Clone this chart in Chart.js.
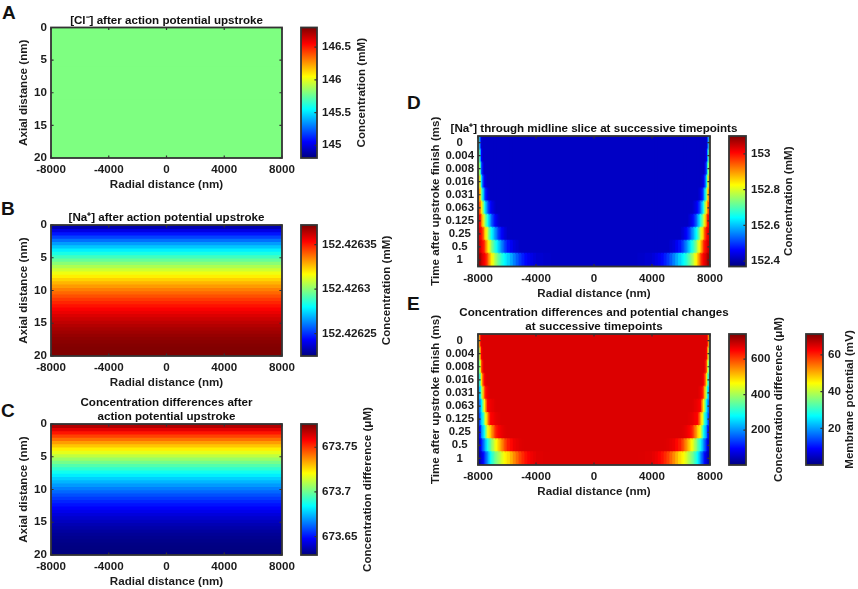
<!DOCTYPE html>
<html><head><meta charset="utf-8">
<style>
html,body{margin:0;padding:0;background:#fff;width:858px;height:589px;overflow:hidden}
canvas{position:absolute;left:0;top:0}
.tag{position:absolute;font:bold 19px "Liberation Sans",Arial,sans-serif;color:#111;line-height:19px}
</style>
<script src="https://cdn.jsdelivr.net/npm/chart.js@4"></script>
</head><body>
<div class="tag" style="left:2px;top:3px">A</div>
<div class="tag" style="left:1px;top:199px">B</div>
<div class="tag" style="left:1px;top:401px">C</div>
<div class="tag" style="left:407px;top:93px">D</div>
<div class="tag" style="left:407px;top:294px">E</div>
<script>
// ---- data ----
const axialDepthCoarse = [0,5,10,15,20];
const clConcentration = [145.80,145.80,145.80,145.80,145.80];
const axialDepthFine = [0,0.5,1,1.5,2,2.5,3,3.5,4,4.5,5,5.5,6,6.5,7,7.5,8,8.5,9,9.5,10,10.5,11,11.5,12,12.5,13,13.5,14,14.5,15,15.5,16,16.5,17,17.5,18,18.5,19,19.5,20];
const naConcentration = [152.4262250,152.4262323,152.4262393,152.4262462,152.4262529,152.4262595,152.4262658,152.4262720,152.4262779,152.4262837,152.4262893,152.4262947,152.4263000,152.4263050,152.4263099,152.4263146,152.4263191,152.4263234,152.4263275,152.4263315,152.4263353,152.4263388,152.4263422,152.4263455,152.4263485,152.4263513,152.4263540,152.4263565,152.4263588,152.4263609,152.4263628,152.4263646,152.4263661,152.4263675,152.4263687,152.4263697,152.4263705,152.4263712,152.4263716,152.4263719,152.4263720];
const concDifference = [673.7760,673.7688,673.7617,673.7548,673.7482,673.7417,673.7353,673.7292,673.7233,673.7175,673.7119,673.7065,673.7013,673.6962,673.6914,673.6867,673.6822,673.6779,673.6738,673.6699,673.6661,673.6626,673.6592,673.6560,673.6529,673.6501,673.6474,673.6450,673.6427,673.6406,673.6387,673.6369,673.6354,673.6340,673.6328,673.6318,673.6310,673.6303,673.6299,673.6296,673.6295];
const timeLabels = ['0','0.004','0.008','0.016','0.031','0.063','0.125','0.25','0.5','1'];
const distFromEdge = [0,100,200,300,400,500,600,700,800,900,1000,1100,1200,1300,1400,1500,1600,1700,1800,1900,2000,2200,2400,2600,2800,3000,3200,3400,3600,3800,4000,4500,5000];
const naBulk = 152.42;
const naT0     = [152.699,152.516,152.428];
const naT0004  = [152.772,152.589,152.458];
const naT0008  = [152.823,152.677,152.516,152.443];
const naT0016  = [152.896,152.772,152.618,152.501,152.450,152.428];
const naT0031  = [152.954,152.852,152.720,152.618,152.531,152.472,152.443,152.430];
const naT0063  = [152.991,152.918,152.845,152.750,152.662,152.596,152.538,152.500,152.465,152.450,152.436,152.428];
const naT0125  = [153.027,152.998,152.918,152.845,152.772,152.713,152.662,152.614,152.567,152.530,152.494,152.472,152.450,152.439,152.428];
const naT025   = [153.049,153.020,152.998,152.954,152.881,152.837,152.786,152.731,152.677,152.644,152.611,152.582,152.553,152.523,152.494,152.476,152.458,152.447,152.436,152.428];
const naT05    = [153.064,153.042,153.020,152.998,152.969,152.910,152.859,152.818,152.779,152.742,152.706,152.680,152.655,152.629,152.604,152.578,152.553,152.531,152.509,152.490,152.472,152.453,152.436,152.428];
const naT1     = [153.085,153.071,153.049,153.027,153.012,152.991,152.954,152.910,152.866,152.835,152.808,152.778,152.750,152.728,152.706,152.687,152.669,152.654,152.640,152.625,152.611,152.582,152.553,152.526,152.501,152.482,152.465,152.453,152.443,152.435,152.428,152.423,152.42];
const diffBulk = 674;
const diffT0    = [446,623,671];
const diffT0004 = [357,534,652];
const diffT0008 = [298,446,593,660];
const diffT0016 = [239,350,490,601,652,671];
const diffT0031 = [188,269,387,505,593,645,660,668];
const diffT0063 = [136,210,269,387,475,557,645,653,660,664,667,671];
const diffT0125 = [92,188,247,298,387,468,527,586,645,651,656,662,667,669,671,673];
const diffT025  = [62,114,195,247,291,372,446,476,505,538,571,600,630,641,652,658,664,668,671,673];
const diffT05   = [40,69,114,165,202,247,291,320,350,380,409,435,461,483,505,527,549,571,593,612,630,645,660,666,671,673];
const diffT1    = [25,47,69,92,128,165,202,239,276,302,328,350,372,387,402,420,438,453,468,479,490,520,549,575,601,620,638,650,660,666,671,673,674];
const xTicksNm = [-8000,-4000,0,4000,8000];
const clTicks = [145,145.5,146,146.5];
const naTicks = [152.42625,152.4263,152.42635];
const diffTicks = [673.65,673.7,673.75];
const naMidTicks = [152.4,152.6,152.8,153];
const diffMidTicks = [200,400,600];
const vmTicks = [20,40,60];

// ---- helpers ----
const W=858,H=589,INK='#1c1c1c',FRAME='#333333';
const fontFam='"Liberation Sans",Arial,sans-serif';
const F={family:fontFam,weight:'bold',size:11.6};
const clamp=v=>Math.max(0,Math.min(1,v));
function jet(f){const r=clamp(1.5-Math.abs(4*f-3)),g=clamp(1.5-Math.abs(4*f-2)),b=clamp(1.5-Math.abs(4*f-1));
  return `rgb(${Math.round(r*255)},${Math.round(g*255)},${Math.round(b*255)})`;}
const colorOf=(v,lo,hi)=>jet((v-lo)/(hi-lo));
function newCanvas(){const c=document.createElement('canvas');c.width=W;c.height=H;c.style.width=W+'px';c.style.height=H+'px';document.body.appendChild(c);return c.getContext('2d');}
function frame(isBar){return {id:'frame',
 afterLayout(ch){if(ch.titleBlock){ch.titleBlock.left-=90;ch.titleBlock.right+=90;}},
 afterDraw(ch){
  const {ctx,chartArea:a,scales}=ch;ctx.save();ctx.strokeStyle=FRAME;ctx.lineWidth=1.2;
  const L=2.6;ctx.beginPath();
  if(isBar){const s=scales.y;s.ticks.forEach((t,i)=>{const p=s.getPixelForTick(i);ctx.moveTo(a.right,p);ctx.lineTo(a.right-L,p);});}
  else{
    const sx=scales.x,sy=scales.y;
    sx.ticks.forEach((t,i)=>{const p=sx.getPixelForTick(i);ctx.moveTo(p,a.top);ctx.lineTo(p,a.top+L);ctx.moveTo(p,a.bottom);ctx.lineTo(p,a.bottom-L);});
    sy.ticks.forEach((t,i)=>{const p=sy.getPixelForTick(i);ctx.moveTo(a.left,p);ctx.lineTo(a.left+L,p);ctx.moveTo(a.right,p);ctx.lineTo(a.right-L,p);});
  }
  ctx.stroke();ctx.lineWidth=1.8;ctx.strokeRect(a.left,a.top,a.right-a.left,a.bottom-a.top);ctx.restore();
}};}
const noGrid={display:false,tickLength:0,drawTicks:false};
const xAxis={type:'linear',min:-8000,max:8000,
  afterBuildTicks(s){s.ticks=xTicksNm.map(value=>({value}));},
  afterFit(s){s.height=34;},
  grid:noGrid,border:{display:false},
  ticks:{font:F,color:INK,padding:5,autoSkip:false,maxRotation:0,callback:v=>String(v)},
  title:{display:true,text:'Radial distance (nm)',font:F,color:INK,padding:0}};
function commonOpts(rect,title,yw,yScale){
  const lines=Array.isArray(title)?title.length:1,titleH=lines*14;
  return {responsive:false,animation:false,devicePixelRatio:1,indexAxis:'y',
    layout:{padding:{left:rect.l-yw,right:W-rect.r,top:rect.t-titleH,bottom:H-rect.b-34}},
    plugins:{legend:{display:false},tooltip:{enabled:false},
      title:{display:true,text:title,fullSize:false,color:'#111',padding:0,font:{family:fontFam,weight:'bold',size:11.6,lineHeight:14/11.6}}},
    scales:{x:xAxis,y:yScale}};
}
function gradientPanel(rect,title,depths,values,lo,hi){
  const y={type:'linear',reverse:true,min:0,max:20,offset:false,
    afterBuildTicks(s){s.ticks=axialDepthCoarse.map(value=>({value}));},
    afterFit(s){s.width=34;},grid:noGrid,border:{display:false},
    ticks:{font:F,color:INK,padding:4,callback:v=>String(v)},
    title:{display:true,text:'Axial distance (nm)',font:F,color:INK,padding:0}};
  new Chart(newCanvas(),{type:'bar',
    data:{datasets:[{data:depths.map((d,i)=>({y:d,x:[-8000,8000]})),
      backgroundColor:values.map(v=>colorOf(v,lo,hi)),borderWidth:0,barPercentage:1.6,categoryPercentage:1}]},
    options:commonOpts(rect,title,34,y),plugins:[frame(false)]});
}
function timePanel(rect,title,rows,bulk,lo,hi){
  const y={type:'category',labels:timeLabels,
    afterFit(s){s.width=49;},grid:noGrid,border:{display:false},
    ticks:{font:{...F,size:11.4},color:INK,padding:4,autoSkip:false,crossAlign:'center'},
    title:{display:true,text:'Time after upstroke finish (ms)',font:F,color:INK,padding:0}};
  const datasets=[];
  for(let c=distFromEdge.length-1;c>=0;c--){
    const d=distFromEdge[c];
    datasets.push({data:rows.map(()=>[-8000+d,8000-d]),
      backgroundColor:rows.map(r=>colorOf(r[c]??bulk,lo,hi)),
      borderWidth:0,grouped:false,barPercentage:1.1,categoryPercentage:1});
  }
  new Chart(newCanvas(),{type:'bar',data:{labels:timeLabels,datasets},
    options:commonOpts(rect,title,49,y),plugins:[frame(false)]});
}
function colorbar(rect,lo,hi,ticks,label,labelX){
  const yw=label.w;
  const labelPlugin={id:'cbLabel',afterDraw(ch){const c=ch.ctx,a=ch.chartArea;c.save();
    c.translate(labelX,label.cy??(a.top+a.bottom)/2);c.rotate(-Math.PI/2);
    c.font=`bold 11.6px ${fontFam}`;c.fillStyle=INK;c.textAlign='center';c.textBaseline='middle';c.fillText(label.text,0,0);c.restore();}};
  new Chart(newCanvas(),{type:'bar',
    data:{labels:[''],datasets:[{data:[[lo,hi]],borderWidth:0,barPercentage:1,categoryPercentage:1,
      backgroundColor(ctx){const a=ctx.chart.chartArea;if(!a)return '#000';
        const g=ctx.chart.ctx.createLinearGradient(0,a.bottom,0,a.top);
        [0,0.125,0.375,0.625,0.875,1].forEach(s=>g.addColorStop(s,jet(s)));return g;}}]},
    options:{responsive:false,animation:false,devicePixelRatio:1,
      layout:{padding:{left:rect.l,right:W-rect.r-yw,top:rect.t,bottom:H-rect.b}},
      plugins:{legend:{display:false},tooltip:{enabled:false}},
      scales:{x:{display:false},
        y:{type:'linear',position:'right',min:lo,max:hi,
          afterBuildTicks(s){s.ticks=ticks.map(value=>({value}));},
          afterFit(s){s.width=yw;},grid:noGrid,border:{display:false},
          ticks:{font:F,color:INK,padding:5,autoSkip:false,callback:v=>String(v)}}}},
    plugins:[frame(true),labelPlugin]});
}
// ---- panels ----
const A={l:51,r:282,t:27.5,b:158},B={l:51,r:282,t:225,b:356},C={l:51,r:282,t:424,b:555};
const D={l:478,r:710,t:136,b:266.5},E={l:478,r:710,t:334,b:465};
gradientPanel(A,'[Cl\u207B] after action potential upstroke',axialDepthCoarse,clConcentration,144.805,146.80);
gradientPanel(B,'[Na\u207A] after action potential upstroke',axialDepthFine,naConcentration,152.426225,152.426372);
gradientPanel(C,['Concentration differences after','action potential upstroke'],axialDepthFine,concDifference,673.6295,673.776);
timePanel(D,'[Na\u207A] through midline slice at successive timepoints',[naT0,naT0004,naT0008,naT0016,naT0031,naT0063,naT0125,naT025,naT05,naT1],naBulk,152.37,153.10);
timePanel(E,['Concentration differences and potential changes','at successive timepoints'],[diffT0,diffT0004,diffT0008,diffT0016,diffT0031,diffT0063,diffT0125,diffT025,diffT05,diffT1],diffBulk,3,741);
const barA={l:301,r:317,t:27.5,b:158},barB={l:301,r:317,t:225,b:356},barC={l:301,r:317,t:424,b:555};
const barD={l:729,r:746,t:136,b:266.5},barE1={l:729,r:746,t:334,b:465},barE2={l:806,r:823,t:334,b:465};
colorbar(barA,144.805,146.80,clTicks,{text:'Concentration (mM)',w:70},362);
colorbar(barB,152.426225,152.426372,naTicks,{text:'Concentration (mM)',w:75},387);
colorbar(barC,673.6295,673.776,diffTicks,{text:'Concentration difference (\u03BCM)',w:70},368);
colorbar(barD,152.37,153.10,naMidTicks,{text:'Concentration (mM)',w:65},789);
colorbar(barE1,3,741,diffMidTicks,{text:'Concentration difference (\u03BCM)',w:65},779);
colorbar(barE2,0,71.4,vmTicks,{text:'Membrane potential (mV)',w:35},850);
</script>
</body></html>
